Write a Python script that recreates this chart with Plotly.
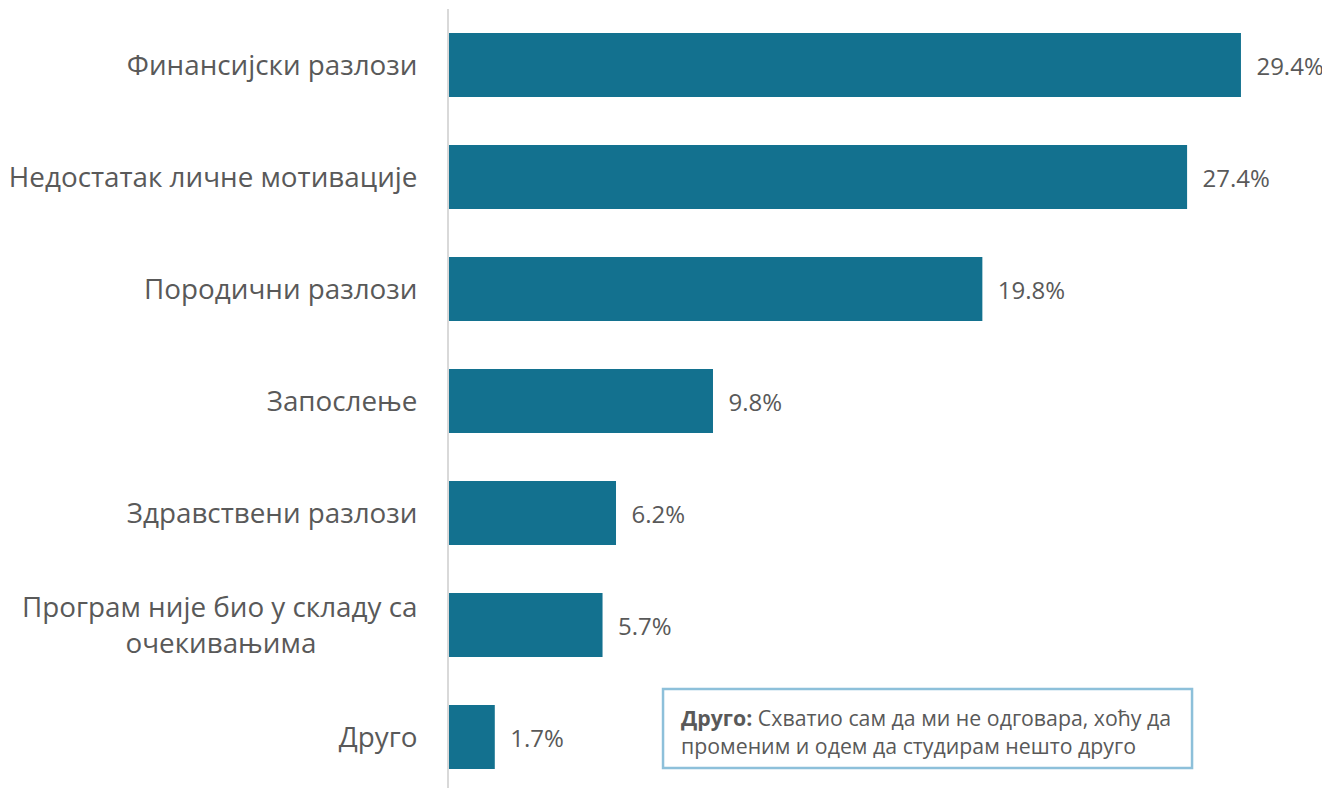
import plotly.graph_objects as go

# Data
categories = [
    "Финансијски разлози",
    "Недостатак личне мотивације",
    "Породични разлози",
    "Запослење",
    "Здравствени разлози",
    "Програм није био у складу са<br>очекивањима" + "\u00a0" * 14,
    "Друго",
]
values = [29.4, 27.4, 19.8, 9.8, 6.2, 5.7, 1.7]
value_labels = [f"{v}%" for v in values]

note_title = "Друго:"
note_text = "Схватио сам да ми не одговара, хоћу да<br>променим и одем да студирам нешто друго"

bar_color = "#13718F"
text_color = "#595959"
font_family = "Open Sans"

fig = go.Figure()

fig.add_trace(go.Bar(
    y=categories,
    x=values,
    orientation="h",
    marker=dict(color=bar_color, line=dict(width=0)),
    text=["  " + t for t in value_labels],
    textposition="outside",
    cliponaxis=False,
    textfont=dict(size=24, color=text_color, family=font_family),
))

# note box in lower right
fig.add_shape(
    type="rect",
    xref="paper", yref="paper",
    x0=0.2483, x1=0.862, y0=0.0257, y1=0.127,
    line=dict(color="#8DC0DA", width=2.5),
    fillcolor="white",
    layer="above",
)
fig.add_annotation(
    text=f"<b>{note_title}</b> {note_text}",
    xref="paper", yref="paper",
    x=0.2668, y=0.073,
    xanchor="left", yanchor="middle",
    align="left",
    showarrow=False,
    font=dict(size=21.3, color=text_color, family=font_family),
)

fig.update_layout(
    width=1330,
    height=788,
    margin=dict(t=1, b=8, l=441, r=27),
    paper_bgcolor="white",
    plot_bgcolor="white",
    showlegend=False,
    bargap=0.43,
    xaxis=dict(
        range=[0, 32],
        visible=False,
    ),
    yaxis=dict(
        categoryorder="array",
        categoryarray=categories,
        range=[6.455, -0.5],
        showline=True,
        linecolor="#D9D9D9",
        linewidth=2,
        ticks="",
        ticklabelstandoff=24,
        tickfont=dict(size=27.8, color=text_color, family=font_family),
        showgrid=False,
    ),
)

fig.write_html("out.html")
